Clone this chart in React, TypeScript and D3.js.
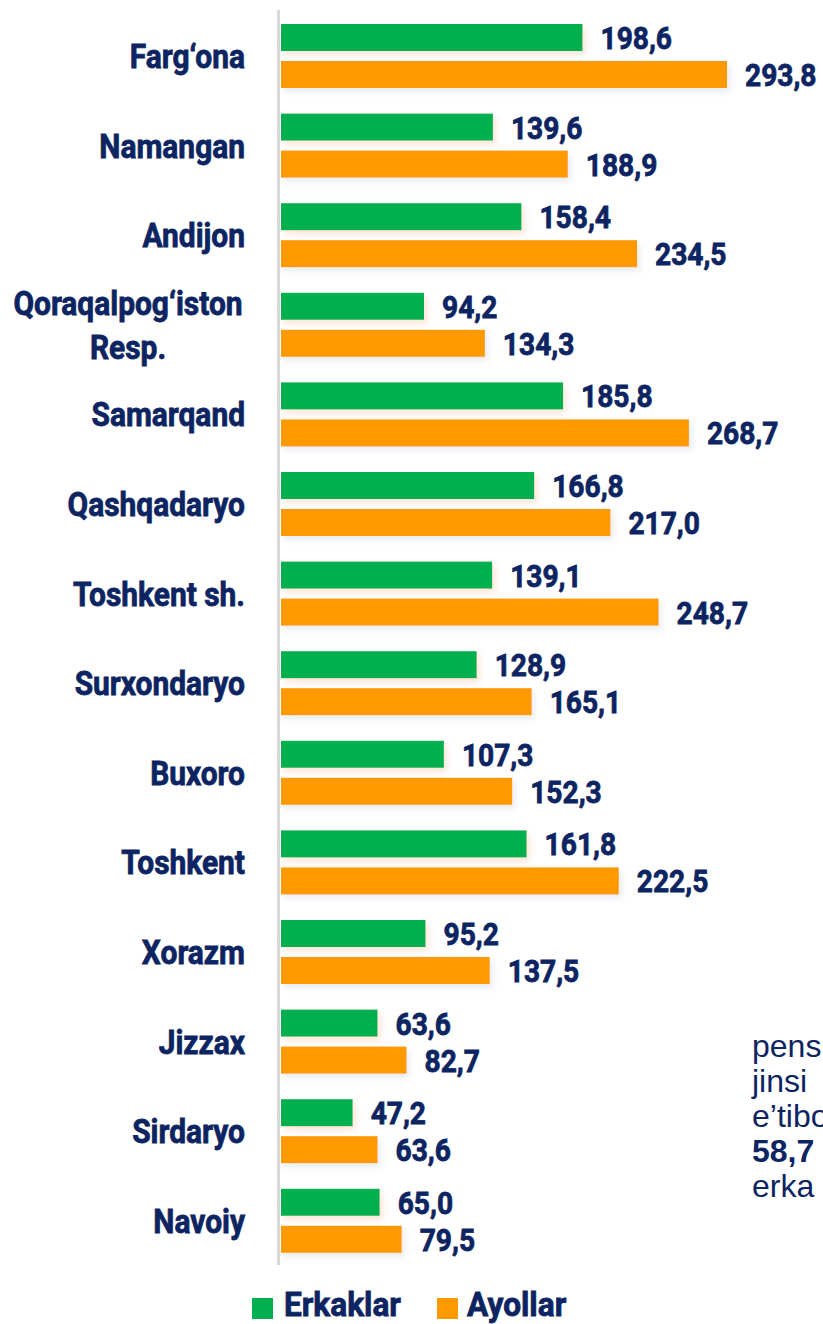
import React from "react";
import * as d3 from "d3";

const categories: string[][] = [
  ["Farg‘ona"],
  ["Namangan"],
  ["Andijon"],
  ["Qoraqalpog‘iston", "Resp."],
  ["Samarqand"],
  ["Qashqadaryo"],
  ["Toshkent sh."],
  ["Surxondaryo"],
  ["Buxoro"],
  ["Toshkent"],
  ["Xorazm"],
  ["Jizzax"],
  ["Sirdaryo"],
  ["Navoiy"],
];
const erkaklar: number[] = [198.6, 139.6, 158.4, 94.2, 185.8, 166.8, 139.1, 128.9, 107.3, 161.8, 95.2, 63.6, 47.2, 65.0];
const ayollar: number[] = [293.8, 188.9, 234.5, 134.3, 268.7, 217.0, 248.7, 165.1, 152.3, 222.5, 137.5, 82.7, 63.6, 79.5];
const seriesNames = ["Erkaklar", "Ayollar"];
const sideText: { t: string; bold: boolean }[] = [
  { t: "pens", bold: false },
  { t: "jinsi", bold: false },
  { t: "e’tibo", bold: false },
  { t: "58,7", bold: true },
  { t: "erka", bold: false },
];

const W = 823;
const H = 1324;
const NAVY = "#0c2461";
const GREEN = "#00b050";
const ORANGE = "#ff9900";
const FONT = "Roboto, 'Noto Sans', sans-serif";
const SX = 0.88;

const fmt = (v: number) => v.toFixed(1).replace(".", ",");

const Lbl = ({ tx, ty, sx, size, anchor, children }: any) => (
  <g transform={`translate(${tx},${ty}) scale(${sx},1)`}>
    <text
      fontSize={size}
      fontWeight={700}
      fill={NAVY}
      stroke={NAVY}
      strokeWidth={0.8}
      textAnchor={anchor || "start"}
    >
      {children}
    </text>
  </g>
);

export default function App() {
  const x0 = 281;
  const x = d3.scaleLinear().domain([0, 293.8]).range([x0, 727]);
  const band = d3
    .scaleBand<number>()
    .domain(d3.range(categories.length))
    .range([13.5, 13.5 + 89.6 * categories.length])
    .paddingInner(0)
    .paddingOuter(0);
  const barH = 27;
  const gap = 10;

  return (
    <svg
      width={W}
      height={H}
      style={{ position: "absolute", left: 0, top: 0, display: "block", background: "#fff" }}
      fontFamily={FONT}
    >
      <defs>
        <filter id="shG" x="-10%" y="-50%" width="130%" height="250%">
          <feDropShadow dx="3" dy="4" stdDeviation="3" floodColor="#f08a4b" floodOpacity="0.22" />
        </filter>
        <filter id="shO" x="-10%" y="-50%" width="130%" height="250%">
          <feDropShadow dx="3" dy="4" stdDeviation="3" floodColor="#7f93b8" floodOpacity="0.18" />
        </filter>
      </defs>

      {/* axis line */}
      <rect x={277} y={10} width={3} height={1255} fill="#d9d9d9" />

      {categories.map((cat, i) => {
        const top = band(i)! + 10.5;
        const yG = top;
        const yO = top + barH + gap;
        const mid = (yG + yO + barH) / 2;
        return (
          <g key={i}>
            <rect x={x0} y={yG} width={x(erkaklar[i]) - x0} height={barH} fill={GREEN} filter="url(#shG)" />
            <rect x={x0} y={yO} width={x(ayollar[i]) - x0} height={barH} fill={ORANGE} filter="url(#shO)" />
            <Lbl tx={x(erkaklar[i]) + 18} ty={yG + barH / 2 + 11.5} sx={SX} size={32}>{fmt(erkaklar[i])}</Lbl>
            <Lbl tx={x(ayollar[i]) + 18} ty={yO + barH / 2 + 11.5} sx={SX} size={32}>{fmt(ayollar[i])}</Lbl>
            {cat.length === 1 ? (
              <Lbl tx={245} ty={mid + 12} sx={SX} size={34} anchor="end">{cat[0]}</Lbl>
            ) : (
              cat.map((line, k) => (
                <Lbl key={k} tx={128} ty={mid - 10 + k * 44} sx={SX} size={34} anchor="middle">{line}</Lbl>
              ))
            )}
          </g>
        );
      })}

      {/* legend */}
      <rect x={252} y={1298} width={21} height={21} fill={GREEN} />
      <Lbl tx={284} ty={1316} sx={0.93} size={34}>{seriesNames[0]}</Lbl>
      <rect x={437} y={1298} width={21} height={21} fill={ORANGE} />
      <Lbl tx={467} ty={1316} sx={0.93} size={34}>{seriesNames[1]}</Lbl>

      {/* side text (cut off at the right edge) */}
      {sideText.map((s, i) => (
        <text
          key={i}
          x={752}
          y={1057 + i * 35}
          fontFamily="'Liberation Sans', Arial, sans-serif"
          fontSize={32}
          fontWeight={s.bold ? 700 : 400}
          fill={NAVY}
        >
          {s.t}
        </text>
      ))}
    </svg>
  );
}
